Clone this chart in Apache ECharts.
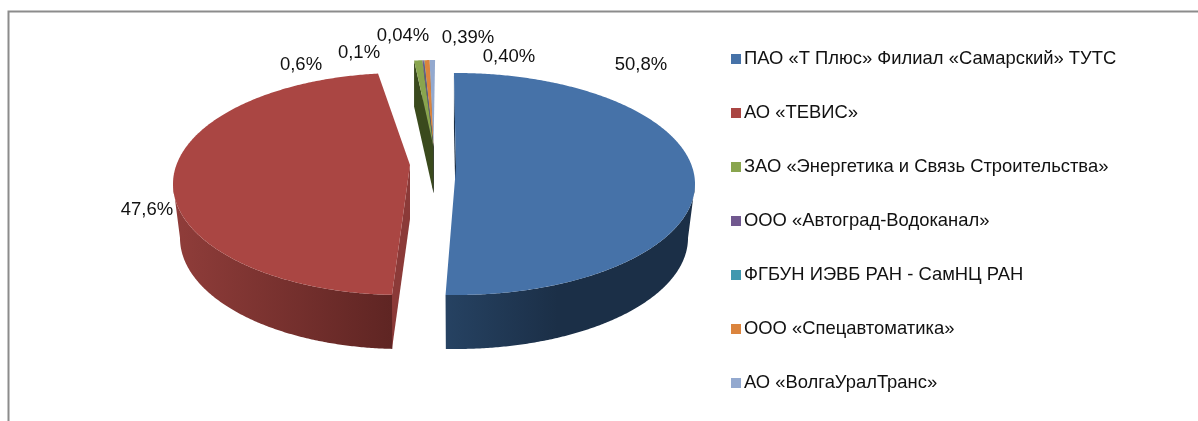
<!DOCTYPE html>
<html><head><meta charset="utf-8">
<style>html,body{margin:0;padding:0;background:#fff}#c{width:1198px;height:421px}</style>
<script src="https://cdn.jsdelivr.net/npm/echarts@6/dist/echarts.min.js"></script>
</head><body><div id="c"></div>
<script>
const categories = ['ПАО «Т Плюс» Филиал «Самарский» ТУТС','АО «ТЕВИС»','ЗАО «Энергетика и Связь Строительства»','ООО «Автоград-Водоканал»','ФГБУН ИЭВБ РАН - СамНЦ РАН','ООО «Спецавтоматика»','АО «ВолгаУралТранс»'];
const values = [50.8,47.6,0.6,0.1,0.04,0.39,0.40];
const valueLabels = ['50,8%','47,6%','0,6%','0,1%','0,04%','0,39%','0,40%'];

const colors = ['#4672A8','#AA4643','#89A54E','#71588F','#4198AF','#DB843D','#93A9CF'];
const faceColors = ['#1b2f47','#8b3a38','#3a4a1d','#2e2440','#1b4350','#5e3818','#3c4a60'];
const wallStops = [['#264262','#1b2f47'],['#903d3a','#5f2523']];
const views = {
  blue:{cx:456,cy:184,rx:239,ry:111,ax:456,ay:167,depth:54,inset:7},
  red:{cx:402,cy:184,rx:229,ry:111,ax:410,ay:165,depth:54,inset:7},
  small:{cx:437,cy:165,rx:219,ry:105,ax:433.5,ay:147,depth:46,inset:0}
};
const sliceViews = [views.blue,views.red,views.small,views.small,views.small,views.small,views.small];
const labelCenters = [[641,65],[147,210],[301,65],[359,53],[403,36],[468,38],[509,57]];
const rotation = -0.5;

const total = values.reduce((a,b)=>a+b,0);
function angles(i){
  let s = rotation;
  for(let k=0;k<i;k++) s += values[k]/total*360;
  return [s, s+values[i]/total*360];
}
const onEllipse=(v,a,down)=>{
  const r=a*Math.PI/180, d=down?v.depth:0, ins=down?v.inset:0;
  return [v.cx+(v.rx-ins)*Math.sin(r), v.cy+d-(v.ry)*Math.cos(r)];
};
function arc(v,a0,a1,down){
  const pts=[],n=Math.max(2,Math.ceil(Math.abs(a1-a0)*2));
  for(let k=0;k<=n;k++) pts.push(onEllipse(v,a0+(a1-a0)*k/n,down));
  return pts;
}
function renderSlice(i){
  return function(params,api){
    const v=sliceViews[i];
    const [a0,a1]=angles(i);
    const children=[];
    const o=onEllipse(v,a0,false);
    children.push({type:'polygon',shape:{points:[o,[v.ax,v.ay],[v.ax,v.ay+v.depth],[o[0],o[1]+v.depth]]},style:{fill:faceColors[i]}});
    const w0=Math.max(a0,90),w1=Math.min(a1,270);
    if(w1>w0 && wallStops[i]){
      const top=arc(v,w0,w1,false),bot=arc(v,w0,w1,true).reverse();
      const stops=wallStops[i];
      const g = i===0
        ? new echarts.graphic.LinearGradient(1,0,0,0,[{offset:0,color:stops[1]},{offset:0.55,color:stops[1]},{offset:1,color:stops[0]}])
        : new echarts.graphic.LinearGradient(0,0,1,0,[{offset:0,color:stops[0]},{offset:1,color:stops[1]}]);
      children.push({type:'polygon',shape:{points:top.concat(bot)},style:{fill:g}});
    }
    children.push({type:'polygon',shape:{points:[[v.ax,v.ay]].concat(arc(v,a0,a1,false))},style:{fill:colors[i]}});
    children.push({type:'text',x:labelCenters[i][0],y:labelCenters[i][1],z2:50,style:{text:valueLabels[i],fill:'#111',font:'18.5px "Liberation Sans"',align:'center',verticalAlign:'middle'}});
    return {type:'group',children};
  };
}
const chart=echarts.init(document.getElementById('c'),null,{renderer:'canvas'});
chart.setOption({
  animation:false,
  backgroundColor:'#fff',
  legend:{orient:'vertical',left:726,top:45,icon:'rect',itemWidth:10,itemHeight:10,itemGap:36,
    textStyle:{fontFamily:'Liberation Sans',fontSize:18.4,color:'#111',padding:[0,0,0,-2]},
    data:categories,selectedMode:false},
  graphic:[{type:'polyline',shape:{points:[[8.5,430],[8.5,11.5],[1210,11.5]]},style:{fill:null,stroke:'#8c8c8c',lineWidth:2},silent:true}],
  series:categories.map((name,i)=>({
    type:'custom',name,coordinateSystem:'none',silent:true,
    z:i<2?2:12-i,
    itemStyle:{color:colors[i]},
    renderItem:renderSlice(i),
    data:[[values[i]]]
  }))
});
</script></body></html>
